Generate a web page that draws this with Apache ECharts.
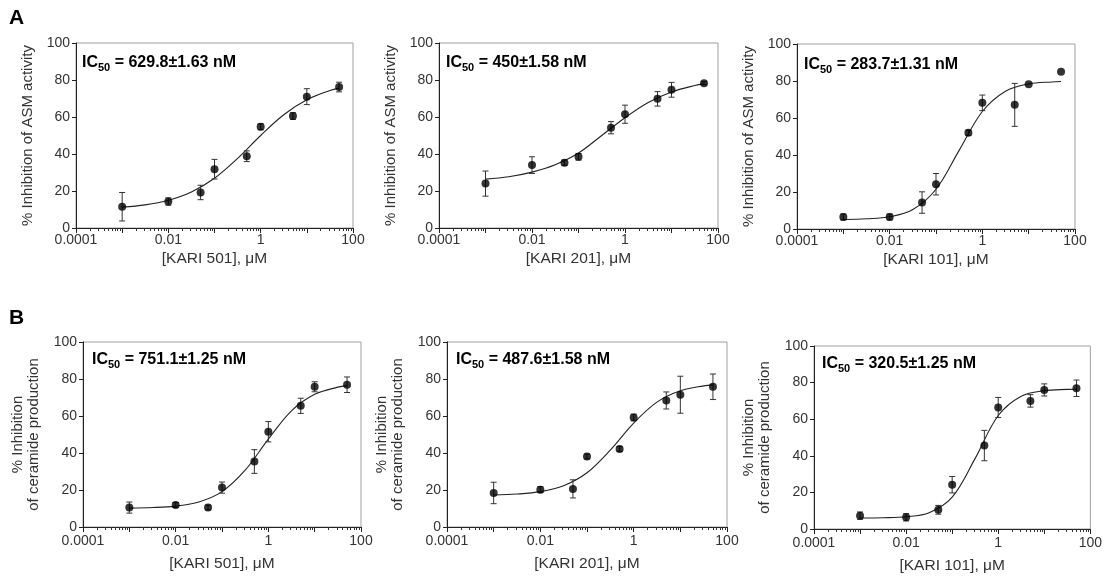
<!DOCTYPE html>
<html><head><meta charset="utf-8">
<script src="https://cdn.jsdelivr.net/npm/echarts@6/dist/echarts.min.js"></script>
<style>html,body{margin:0;padding:0;background:#fff}#c{width:1105px;height:577px}</style>
</head><body><div id="c"></div>
<script>
// ---- data ----
const concentrations = [0.001, 0.01, 0.05, 0.1, 0.5, 1, 5, 10, 50];
const fitX = [0.001, 0.00316, 0.01, 0.0316, 0.1, 0.316, 1, 3.16, 10, 31.6, 50];
const xMajorTicks = [0.0001, 0.001, 0.01, 0.1, 1, 10, 100];
const xTickLabels = [0.0001, 0.01, 1, 100];
const yTickLabels = [0, 20, 40, 60, 80, 100];

// A: inhibition of ASM activity
const asm501Mean = [11.5, 14.3, 19.2, 31.8, 38.8, 54.7, 60.5, 71.0, 76.2];
const asm501Err  = [7.7, 2.0, 3.9, 5.3, 2.9, 1.6, 1.8, 4.3, 2.6];
const asm501Fit  = [11.3, 12.5, 15.0, 19.5, 26.9, 37.6, 50.0, 61.2, 69.3, 74.3, 75.6];

const asm201Mean = [24.0, 34.0, 35.3, 38.5, 54.2, 61.5, 69.8, 74.7, 78.3];
const asm201Err  = [6.8, 4.5, 1.4, 1.8, 3.3, 4.9, 3.9, 4.0, 0.8];
const asm201Fit  = [26.4, 27.7, 30.2, 34.2, 40.5, 50.0, 59.6, 67.8, 73.5, 77.0, 77.9];

const asm101Mean = [6.5, 6.5, 14.3, 24.2, 52.0, 68.2, 67.1, 78.2, 85.0];
const asm101Err  = [1.6, 1.6, 5.8, 5.8, 1.4, 4.2, 11.6, 0, 0];
const asm101Fit  = [5.1, 5.5, 6.6, 10.5, 21.5, 42.5, 63.5, 74.5, 78.4, 79.5, 79.7];

// B: inhibition of ceramide production
const cer501Mean = [10.5, 11.9, 10.5, 21.3, 35.4, 51.5, 65.5, 75.8, 76.9];
const cer501Err  = [3.0, 1.3, 1.3, 3.0, 6.4, 5.5, 4.1, 2.7, 4.2];
const cer501Fit  = [10.2, 10.5, 11.3, 13.5, 19.1, 30.7, 47.5, 62.8, 71.7, 75.6, 76.4];

const cer201Mean = [18.4, 20.2, 20.6, 38.1, 42.2, 59.2, 68.4, 71.5, 75.8];
const cer201Err  = [5.8, 1.6, 4.9, 1.3, 1.3, 1.8, 4.6, 10.0, 6.9];
const cer201Fit  = [17.3, 17.8, 19.1, 22.3, 29.3, 41.6, 56.2, 67.5, 73.6, 76.3, 76.8];

const cer101Mean = [7.3, 6.4, 10.5, 24.2, 45.6, 66.4, 70.0, 76.0, 76.9];
const cer101Err  = [2.0, 2.0, 2.4, 4.5, 8.3, 5.5, 3.4, 3.3, 4.5];
const cer101Fit  = [6.0, 6.15, 6.7, 8.9, 17.4, 38.6, 62.0, 72.6, 75.6, 76.3, 76.4];

const panelLetters = ['A', 'B'];
const yNameA = '% Inhibition of ASM activity';
const yNameB = '% Inhibition\nof ceramide production';
const xNames = ['[KARI 501], μM', '[KARI 201], μM', '[KARI 101], μM'];
const icTexts = ['629.8±1.63 nM', '450±1.58 nM', '283.7±1.31 nM', '751.1±1.25 nM', '487.6±1.58 nM', '320.5±1.25 nM'];

// minor log ticks (2..9 per decade)
const xMinorTicks = [];
for (let k = -4; k < 2; k++) for (let d = 2; d <= 9; d++) xMinorTicks.push(+(d * Math.pow(10, k)).toPrecision(3));

const FONT = 'Liberation Sans, Arial, sans-serif';
const panels = [
  {rect:{left:76, top:43, width:277, height:185}, mean:asm501Mean, err:asm501Err, fit:asm501Fit, yName:yNameA, yGap:40, xGap:23, lblM:5, xName:xNames[0], ic:icTexts[0], icPos:[82, 52]},
  {rect:{left:439, top:43, width:279, height:185}, mean:asm201Mean, err:asm201Err, fit:asm201Fit, yName:yNameA, yGap:40, xGap:23, lblM:5, xName:xNames[1], ic:icTexts[1], icPos:[446, 52]},
  {rect:{left:797, top:44, width:278, height:185}, mean:asm101Mean, err:asm101Err, fit:asm101Fit, yName:yNameA, yGap:40, xGap:23, lblM:5, xName:xNames[2], ic:icTexts[2], icPos:[804, 54]},
  {rect:{left:83, top:342, width:278, height:185}, mean:cer501Mean, err:cer501Err, fit:cer501Fit, yName:yNameB, yGap:41, xGap:29, lblM:7, xName:xNames[0], ic:icTexts[3], icPos:[92, 349]},
  {rect:{left:447, top:342, width:280, height:185}, mean:cer201Mean, err:cer201Err, fit:cer201Fit, yName:yNameB, yGap:41, xGap:29, lblM:7, xName:xNames[1], ic:icTexts[4], icPos:[456, 349]},
  {rect:{left:814, top:346, width:277, height:183}, mean:cer101Mean, err:cer101Err, fit:cer101Fit, yName:yNameB, yGap:41, xGap:29, lblM:7, xName:xNames[2], ic:icTexts[5], icPos:[822, 353]}
];

const grid = [], xAxis = [], yAxis = [], series = [];
const title = [
  {text: panelLetters[0], left: 9, top: 8, padding: 0, textStyle: {fontFamily: FONT, fontSize: 21, fontWeight: 'bold', color: '#000'}},
  {text: panelLetters[1], left: 9, top: 308, padding: 0, textStyle: {fontFamily: FONT, fontSize: 21, fontWeight: 'bold', color: '#000'}}
];

panels.forEach((p, i) => {
  grid.push(Object.assign({show: true, borderColor: '#a0a0a0', borderWidth: 1, backgroundColor: 'transparent'}, p.rect));
  xAxis.push({
    type: 'log', logBase: 10, gridIndex: i, min: 0.0001, max: 100, interval: 2,
    name: p.xName, nameLocation: 'middle', nameGap: p.xGap,
    nameTextStyle: {fontFamily: FONT, fontSize: 15.5, color: '#333'},
    axisLine: {show: true, onZero: false, lineStyle: {color: '#222', width: 1}},
    axisTick: {show: true, length: 5, lineStyle: {color: '#222'}, customValues: xMajorTicks},
    axisLabel: {show: true, margin: p.lblM, fontFamily: FONT, fontSize: 14, color: '#333', customValues: xTickLabels,
      formatter: v => String(+(+v).toPrecision(6))},
    splitLine: {show: false}, minorTick: {show: false}
  });
  xAxis.push({
    type: 'log', logBase: 10, gridIndex: i, min: 0.0001, max: 100, position: 'bottom',
    axisLine: {show: false},
    axisTick: {show: true, length: 3, lineStyle: {color: '#333'}, customValues: xMinorTicks},
    axisLabel: {show: false}, splitLine: {show: false}
  });
  yAxis.push({
    type: 'value', gridIndex: i, min: 0, max: 100, interval: 20,
    name: p.yName, nameLocation: 'middle', nameGap: p.yGap, nameRotate: 90,
    nameTextStyle: {fontFamily: FONT, fontSize: 15, color: '#333', lineHeight: 16},
    axisLine: {show: true, lineStyle: {color: '#222', width: 1}},
    axisTick: {show: true, length: 4, lineStyle: {color: '#222'}},
    axisLabel: {margin: 6, fontFamily: FONT, fontSize: 14, color: '#333', formatter: v => yTickLabels.includes(v) ? String(v) : ''},
    splitLine: {show: false}
  });
  const xi = i * 2;
  series.push({
    type: 'line', xAxisIndex: xi, yAxisIndex: i, smooth: 0.35, showSymbol: false, silent: true,
    lineStyle: {color: '#222', width: 1.1}, data: fitX.map((x, k) => [x, p.fit[k]]), z: 2
  });
  series.push({
    type: 'custom', xAxisIndex: xi, yAxisIndex: i, silent: true, z: 3,
    data: concentrations.map((x, k) => [x, p.mean[k], p.err[k]]),
    encode: {x: 0, y: 1},
    renderItem: (params, api) => {
      const x = api.value(0), y = api.value(1), e = api.value(2);
      if (!e) return {type: 'group', children: []};
      const t = api.coord([x, y + e]), b = api.coord([x, y - e]);
      const hw = 3, st = {stroke: '#333', lineWidth: 1};
      return {type: 'group', children: [
        {type: 'line', shape: {x1: t[0], y1: t[1], x2: b[0], y2: b[1]}, style: st},
        {type: 'line', shape: {x1: t[0] - hw, y1: t[1], x2: t[0] + hw, y2: t[1]}, style: st},
        {type: 'line', shape: {x1: b[0] - hw, y1: b[1], x2: b[0] + hw, y2: b[1]}, style: st}
      ]};
    }
  });
  series.push({
    type: 'scatter', xAxisIndex: xi, yAxisIndex: i, symbol: 'circle', symbolSize: 8, silent: true, z: 4,
    itemStyle: {color: '#000'}, data: concentrations.map((x, k) => [x, p.mean[k]])
  });
  title.push({
    text: '{a|IC}{b|50}{a| = ' + p.ic + '}', left: p.icPos[0], top: p.icPos[1], padding: 0,
    textStyle: {rich: {
      a: {fontFamily: FONT, fontSize: 16, fontWeight: 'bold', color: '#000'},
      b: {fontFamily: FONT, fontSize: 11, fontWeight: 'bold', color: '#000', padding: [10, 0, 0, 0]}
    }}
  });
});

const chart = echarts.init(document.getElementById('c'), null, {renderer: 'canvas'});
chart.setOption({animation: false, backgroundColor: '#fff', title, grid, xAxis, yAxis, series});
</script>
</body></html>
